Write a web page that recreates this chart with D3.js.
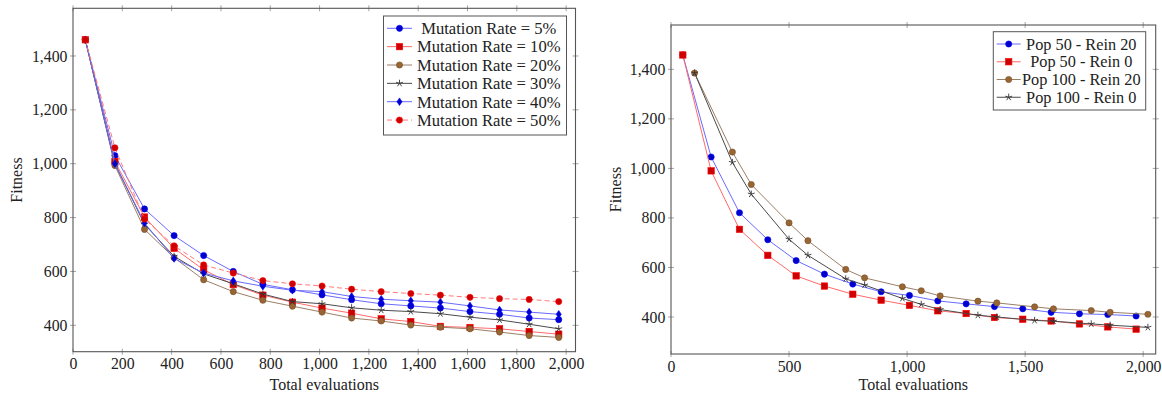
<!DOCTYPE html>
<html><head><meta charset="utf-8">
<script src="https://cdn.jsdelivr.net/npm/d3@7"></script>
<style>
body{margin:0;background:#fff}
svg text{font-family:"Liberation Serif","Times New Roman",serif;fill:#222}
</style></head><body>
<svg id="c" width="1162" height="396"></svg>
<script>
// ---------- DATA ----------
const evalsLeft = [50,170,290,410,530,650,770,890,1010,1130,1250,1370,1490,1610,1730,1850,1970];
const mut5  = [1460,1030,832,733,659,600,552,532,513,495,480,472,464,451,441,427,421];
const mut10 = [1460,1008,802,686,606,551,512,486,464,445,424,414,396,392,387,377,367];
const mut20 = [1460,993,756,651,569,525,493,471,449,427,416,401,393,387,375,362,355];
const mut30 = [1460,1000,775,656,591,554,516,488,480,465,456,451,443,430,420,404,387];
const mut40 = [1460,1000,780,648,594,565,545,530,525,507,497,491,486,472,457,449,441];
const mut50 = [1460,1059,795,695,624,594,566,554,546,534,525,518,512,504,499,496,488];
const legendLeft = ["Mutation Rate = 5%","Mutation Rate = 10%","Mutation Rate = 20%","Mutation Rate = 30%","Mutation Rate = 40%","Mutation Rate = 50%"];

const evalsPop50  = [50,170,290,410,530,650,770,890,1010,1130,1250,1370,1490,1610,1730,1850,1970];
const evalsPop100 = [100,260,340,500,580,740,820,980,1060,1140,1300,1380,1540,1620,1780,1860,2020];
const pop50rein20  = [1458,1046,821,712,628,573,533,502,487,465,453,442,433,419,413,410,404];
const pop50rein0   = [1458,990,754,649,566,525,492,468,447,425,414,398,391,384,372,360,351];
const pop100rein20 = [1385,1066,935,780,708,592,558,522,506,485,464,457,441,433,426,419,411];
const pop100rein0  = [1385,1024,896,714,649,554,529,475,451,430,407,400,386,383,372,367,358];
const legendRight = ["Pop 50 - Rein 20","Pop 50 - Rein 0","Pop 100 - Rein 20","Pop 100 - Rein 0"];

const xTicksLeft = [0,200,400,600,800,1000,1200,1400,1600,1800,2000];
const xTicksRight = [0,500,1000,1500,2000];
const yTicks = [400,600,800,1000,1200,1400];
const xTitle = "Total evaluations";
const yTitle = "Fitness";

// ---------- STYLES ----------
const ST = {
  blueC:  {line:"#6a6aff", dash:null, mark:"circle",  fill:"#0000cc", stroke:"#0000ff"},
  redS:   {line:"#ff6a6a", dash:null, mark:"square",  fill:"#cc0000", stroke:"#ff0000"},
  brownC: {line:"#9a7f66", dash:null, mark:"circle",  fill:"#996633", stroke:"#734d26"},
  blackX: {line:"#4a4a4a", dash:null, mark:"star",    fill:"none",    stroke:"#333"},
  blueD:  {line:"#6a6aff", dash:null, mark:"diamond", fill:"#0000cc", stroke:"#0000ff"},
  redC:   {line:"#ff7b7b", dash:"5,3", mark:"circle", fill:"#cc0000", stroke:"#ff0000"}
};

const svg = d3.select("#c");
const fmt = d3.format(",");

function marker(g, type, x, y, st){
  if(type==="circle"){
    g.append("circle").attr("cx",x).attr("cy",y).attr("r",3.1).attr("fill",st.fill).attr("stroke",st.stroke).attr("stroke-width",0.6);
  } else if(type==="square"){
    g.append("rect").attr("x",x-3.2).attr("y",y-3.2).attr("width",6.4).attr("height",6.4).attr("fill",st.fill).attr("stroke",st.stroke).attr("stroke-width",0.6);
  } else if(type==="diamond"){
    g.append("path").attr("d",`M${x},${y-3.8}L${x+2.6},${y}L${x},${y+3.8}L${x-2.6},${y}Z`).attr("fill",st.fill).attr("stroke",st.stroke).attr("stroke-width",0.6);
  } else if(type==="star"){
    let d="";
    for(let k=0;k<5;k++){const a=(-90+72*k)*Math.PI/180; d+=`M${x},${y}L${x+3.6*Math.cos(a)},${y+3.6*Math.sin(a)}`;}
    g.append("path").attr("d",d).attr("stroke",st.stroke).attr("stroke-width",0.9).attr("fill","none");
  }
}

function panel(cfg){
  const {x, y, xTicks, series, legend} = cfg;
  const g = svg.append("g");
  const [x0,x1] = x.range(), [y0,y1] = y.range();
  const tk = g.append("g").attr("stroke","#9a9a9a").attr("stroke-width",0.9);
  xTicks.forEach(t=>{
    tk.append("line").attr("x1",x(t)).attr("x2",x(t)).attr("y1",y0-3).attr("y2",y0+3);
    tk.append("line").attr("x1",x(t)).attr("x2",x(t)).attr("y1",y1-3).attr("y2",y1+3);
  });
  yTicks.forEach(t=>{
    tk.append("line").attr("y1",y(t)).attr("y2",y(t)).attr("x1",x0-3).attr("x2",x0+3);
    tk.append("line").attr("y1",y(t)).attr("y2",y(t)).attr("x1",x1-3).attr("x2",x1+3);
  });
  const ax = g.append("g").attr("transform",`translate(0,${y0})`)
    .call(d3.axisBottom(x).tickValues(xTicks).tickFormat(fmt).tickSize(0).tickPadding(cfg.xPad));
  const ay = g.append("g").attr("transform",`translate(${x0},0)`)
    .call(d3.axisLeft(y).tickValues(yTicks).tickFormat(fmt).tickSize(0).tickPadding(cfg.yPad));
  [ax,ay].forEach(a=>{a.select(".domain").remove(); a.selectAll("text").attr("font-size",15.8).attr("font-family","Liberation Serif").attr("fill","#222");});
  const plot = g.append("g");
  series.forEach(s=>{
    const pts = s.xs.map((v,i)=>[x(v), y(s.ys[i])]);
    plot.append("path").attr("d",d3.line()(pts)).attr("fill","none").attr("stroke",s.st.line)
      .attr("stroke-width",1).attr("stroke-dasharray",s.st.dash);
    pts.forEach(p=>marker(plot,s.st.mark,p[0],p[1],s.st));
  });
  g.append("rect").attr("x",x0).attr("y",y1).attr("width",x1-x0).attr("height",y0-y1)
    .attr("fill","none").attr("stroke","#555").attr("stroke-width",1.1);
  g.append("text").attr("x",(x0+x1)/2).attr("y",cfg.xTitleY).attr("text-anchor","middle").attr("font-size",16).text(xTitle);
  g.append("text").attr("transform",`translate(${cfg.yTitleX},${(y0+y1)/2}) rotate(-90)`).attr("dy","0.35em")
    .attr("text-anchor","middle").attr("font-size",16).text(yTitle);
  const L = cfg.leg;
  const lg = g.append("g");
  lg.append("rect").attr("x",L.x).attr("y",L.y).attr("width",L.w).attr("height",L.h).attr("fill","#fff").attr("stroke","#555").attr("stroke-width",1);
  series.forEach((s,i)=>{
    const ry = L.row0 + i*L.step;
    lg.append("line").attr("x1",L.lx0).attr("x2",L.lx1).attr("y1",ry).attr("y2",ry).attr("stroke",s.st.line).attr("stroke-width",1).attr("stroke-dasharray",s.st.dash);
    marker(lg,s.st.mark,(L.lx0+L.lx1)/2,ry,s.st);
    lg.append("text").attr("x",L.tx).attr("y",ry).attr("dy","0.35em").attr("text-anchor","middle").attr("font-size",L.fs).text(legend[i]);
  });
}

const xL = d3.scaleLinear().domain([0,2038]).range([73,575.5]);
const yL = d3.scaleLinear().domain([302,1577]).range([351.7,8.3]);
panel({x:xL, y:yL, xTicks:xTicksLeft, xPad:6, yPad:5.5, xTitleY:390, yTitleX:16,
  series:[
    {xs:evalsLeft, ys:mut5,  st:ST.blueC},
    {xs:evalsLeft, ys:mut10, st:ST.redS},
    {xs:evalsLeft, ys:mut20, st:ST.brownC},
    {xs:evalsLeft, ys:mut30, st:ST.blackX},
    {xs:evalsLeft, ys:mut40, st:ST.blueD},
    {xs:evalsLeft, ys:mut50, st:ST.redC}
  ], legend:legendLeft,
  leg:{x:383.5,y:16,w:183,h:119,row0:28.3,step:18.35,lx0:387,lx1:412,tx:488.8,fs:16.6}
});

const xR = d3.scaleLinear().domain([0,2053]).range([671,1155.7]);
const yR = d3.scaleLinear().domain([250.6,1579]).range([354,25]);
panel({x:xR, y:yR, xTicks:xTicksRight, xPad:6.5, yPad:5.7, xTitleY:390, yTitleX:615,
  series:[
    {xs:evalsPop50,  ys:pop50rein20,  st:ST.blueC},
    {xs:evalsPop50,  ys:pop50rein0,   st:ST.redS},
    {xs:evalsPop100, ys:pop100rein20, st:ST.brownC},
    {xs:evalsPop100, ys:pop100rein0,  st:ST.blackX}
  ], legend:legendRight,
  leg:{x:993.3,y:31.7,w:152.4,h:78.3,row0:44,step:17.75,lx0:996.7,lx1:1020.7,tx:1081.3,fs:16.3}
});
</script>
</body></html>
